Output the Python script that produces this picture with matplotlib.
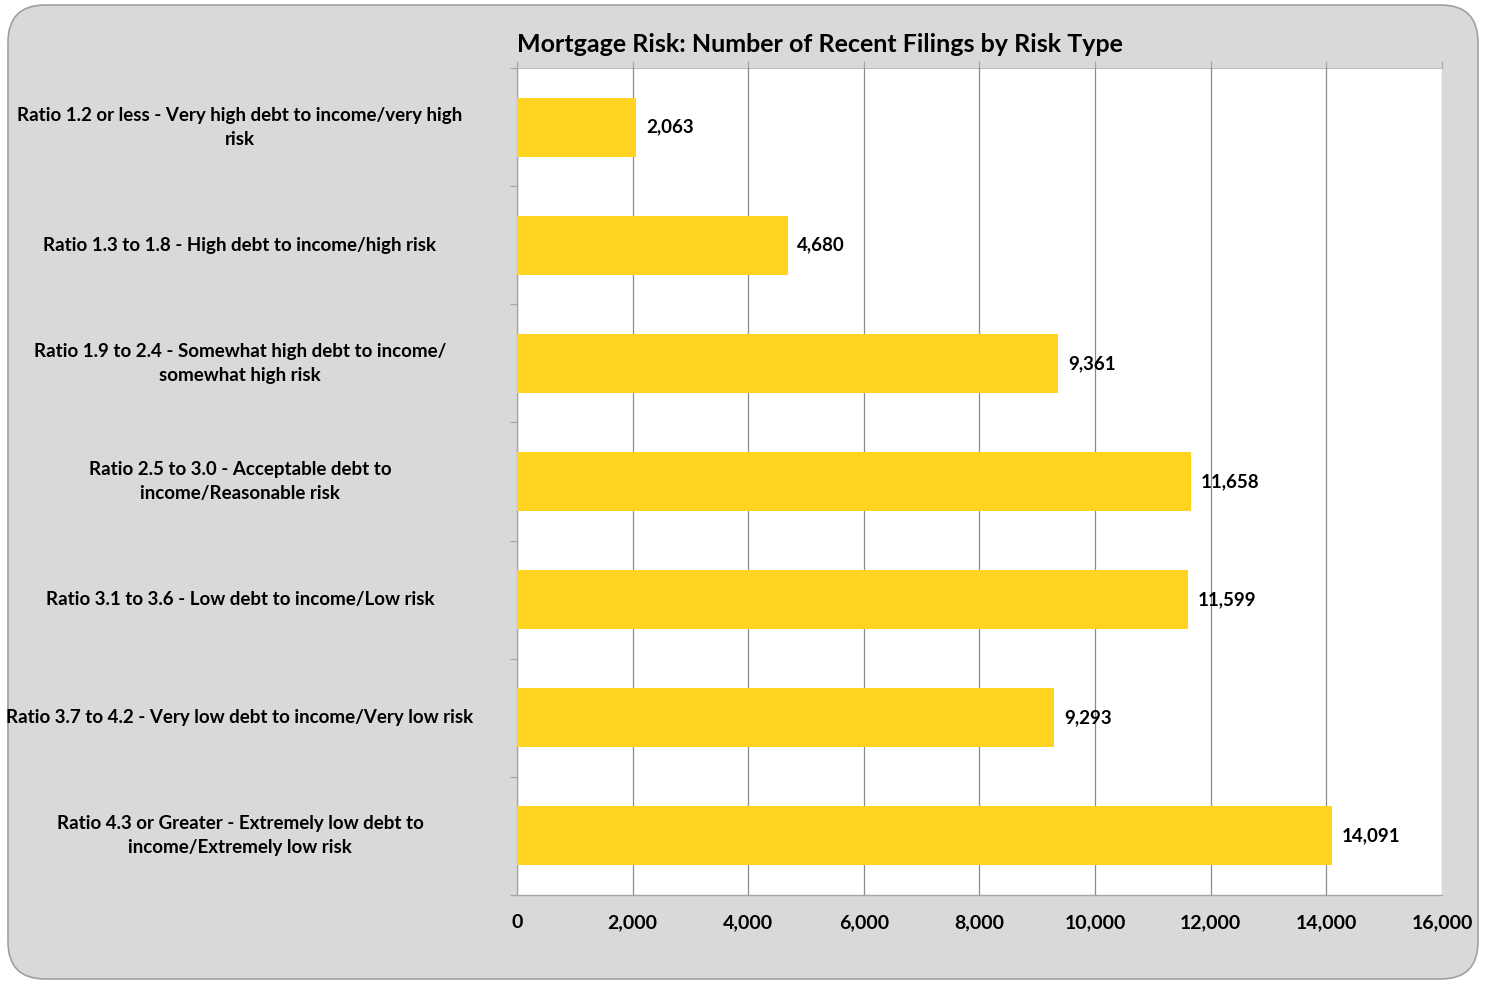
import matplotlib.pyplot as plt
from matplotlib.patches import FancyBboxPatch
from matplotlib.transforms import blended_transform_factory

# Datos
categorias = [
    'Ratio 1.2 or less - Very high debt to income/very high\nrisk',
    'Ratio 1.3 to 1.8 - High debt to income/high risk',
    'Ratio 1.9 to 2.4 - Somewhat high debt to income/\nsomewhat high risk',
    'Ratio 2.5 to 3.0 - Acceptable debt to\nincome/Reasonable risk',
    'Ratio 3.1 to 3.6 - Low debt to income/Low risk',
    'Ratio 3.7 to 4.2 - Very low debt to income/Very low risk',
    'Ratio 4.3 or Greater - Extremely low debt to\nincome/Extremely low risk',
]
valores = [2063, 4680, 9361, 11658, 11599, 9293, 14091]
xticks = [0, 2000, 4000, 6000, 8000, 10000, 12000, 14000, 16000]

plt.rcParams['font.family'] = ['Lato', 'DejaVu Sans']
plt.rcParams['font.weight'] = 'bold'

fig = plt.figure(figsize=(14.88, 9.81), dpi=100)
fig.patch.set_facecolor('white')

# Fondo gris redondeado
fondo = FancyBboxPatch((8 / 1488, 2 / 981), 1470 / 1488, 974 / 981,
                       boxstyle='round,pad=0,rounding_size=0.025',
                       transform=fig.transFigure, facecolor='#D9D9D9',
                       edgecolor='#A0A0A0', linewidth=1.2,
                       mutation_aspect=1488 / 981, zorder=-10)
fig.patches.append(fondo)

ax = fig.add_axes([517 / 1488, 1 - 895 / 981, 925 / 1488, 827 / 981])
ax.set_facecolor('white')

y = list(range(len(categorias)))
ax.barh(y, valores, height=0.5, color='#FFD320', zorder=3)

for yi, v in zip(y, valores):
    ax.text(v + 170, yi, f'{v:,}', va='center', ha='left',
            fontsize=13.5, fontweight='bold', zorder=4)

ax.set_xlim(0, 16000)
ax.set_ylim(6.5, -0.5)
ax.set_xticks(xticks)
ax.set_xticklabels([f'{t:,}' for t in xticks], fontsize=14, fontweight='bold')
ax.tick_params(axis='x', length=0, pad=14)
ax.grid(axis='x', color='#8C8C8C', linewidth=0.9, zorder=1)

# Marcas de categoria
ax.set_yticks([i + 0.5 for i in range(-1, 7)])
ax.set_yticklabels([])
ax.tick_params(axis='y', length=5, color='#A6A6A6', width=0.9)

for s in ['left', 'bottom']:
    ax.spines[s].set_color('#A6A6A6')
    ax.spines[s].set_linewidth(1.0)
for s in ['top', 'right']:
    ax.spines[s].set_visible(False)

# Marcas superiores de la rejilla
ax2 = ax.secondary_xaxis('top')
ax2.set_xticks(xticks)
ax2.set_xticklabels([])
ax2.tick_params(length=5, color='#A6A6A6', width=0.9)
ax2.spines['top'].set_color('#C0C0C0')

trans = blended_transform_factory(fig.transFigure, ax.transData)
for yi, c in zip(y, categorias):
    ax.text(240 / 1488, yi, c, transform=trans, ha='center', va='center',
            fontsize=13.5, fontweight='bold', linespacing=1.5)

fig.text(517 / 1488, 1 - 44 / 981, 'Mortgage Risk: Number of Recent Filings by Risk Type',
         ha='left', va='center', fontsize=18, fontweight='bold')

fig.savefig('out.png', dpi=100)
